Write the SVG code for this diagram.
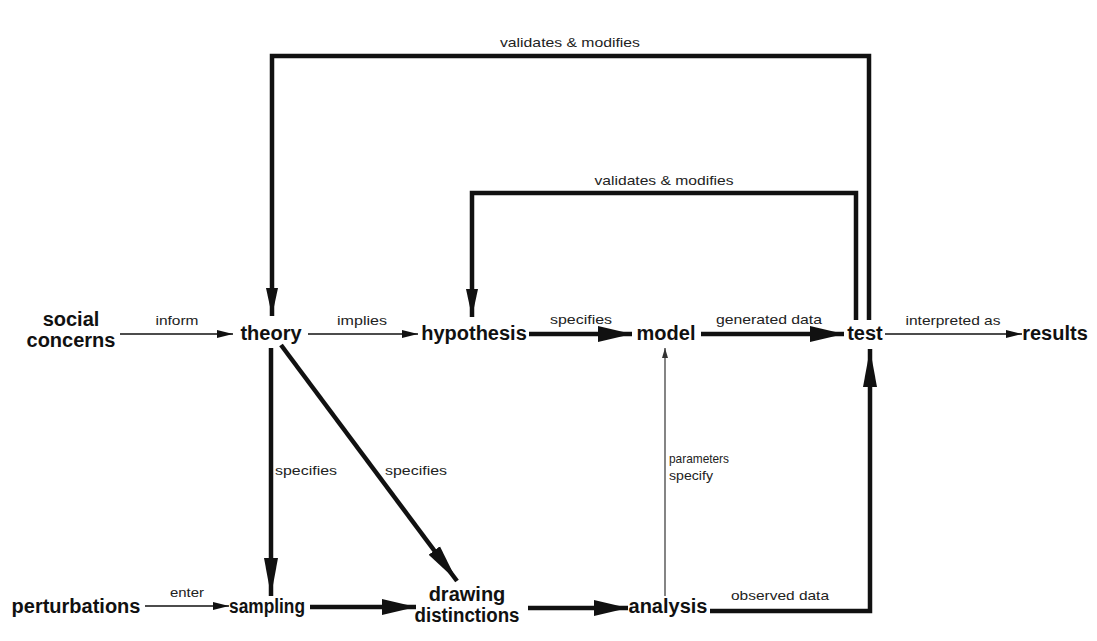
<svg xmlns="http://www.w3.org/2000/svg" width="1097" height="641" viewBox="0 0 1097 641">
<style>
.node{font-family:"Liberation Sans",Arial,sans-serif;font-size:20px;font-weight:bold;fill:#111;text-anchor:middle}
.lbl{font-family:"Liberation Sans",Arial,sans-serif;font-size:13px;fill:#222;text-anchor:middle}
.lbl-l{font-family:"Liberation Sans",Arial,sans-serif;font-size:13px;fill:#222}
.thin{fill:none;stroke:#111;stroke-width:1.6}
.hair{fill:none;stroke:#333;stroke-width:1.2}
.thick{fill:none;stroke:#111;stroke-width:4.5}
.loop{fill:none;stroke:#111;stroke-width:4.5;stroke-linejoin:miter}
</style>
<defs>
<marker id="hThin" markerUnits="userSpaceOnUse" markerWidth="16" markerHeight="10" refX="16" refY="5" orient="auto"><path d="M0,1 L16,5 L0,9 Z" fill="#111"/></marker>
<marker id="hHair" markerUnits="userSpaceOnUse" markerWidth="10" markerHeight="8" refX="10" refY="4" orient="auto"><path d="M0,1 L10,4 L0,7 Z" fill="#333"/></marker>
<marker id="hThick" markerUnits="userSpaceOnUse" markerWidth="34" markerHeight="18" refX="34" refY="9" orient="auto"><path d="M0,1 L34,9 L0,17 Z" fill="#111"/></marker>
<marker id="hLong" markerUnits="userSpaceOnUse" markerWidth="38" markerHeight="16" refX="38" refY="8" orient="auto"><path d="M0,1 L38,8 L0,15 Z" fill="#111"/></marker>
<marker id="hLoop" markerUnits="userSpaceOnUse" markerWidth="28" markerHeight="14" refX="28" refY="7" orient="auto"><path d="M0,1 L28,7 L0,13 Z" fill="#111"/></marker>
</defs>
<rect width="1097" height="641" fill="#fff"/>
<g id="connectors">
<path class="thin" d="M120,334 H233" marker-end="url(#hThin)"/>
<path class="thin" d="M308,334 H418" marker-end="url(#hThin)"/>
<path class="thick" d="M529,334 H632" marker-end="url(#hThick)"/>
<path class="thick" d="M701,334 H844" marker-end="url(#hThick)"/>
<path class="thin" d="M885,334 H1022" marker-end="url(#hThin)"/>
<path class="loop" d="M869,320 V56 H272 V316" marker-end="url(#hLoop)"/>
<path class="loop" d="M856,320 V193 H472 V317" marker-end="url(#hLoop)"/>
<path class="thick" d="M271,348 V596" marker-end="url(#hLong)"/>
<path class="thick" d="M281,345 L457,581" marker-end="url(#hLong)"/>
<path class="hair" d="M665,596 V348" marker-end="url(#hHair)"/>
<path class="thin" d="M145,606 H229" marker-end="url(#hThin)"/>
<path class="thick" d="M310,607 H416" marker-end="url(#hThick)"/>
<path class="thick" d="M528,608 H628" marker-end="url(#hThick)"/>
<path class="thick" d="M710,611 H870 V349" marker-end="url(#hLong)"/>
<text class="lbl" x="570" y="47" textLength="140" lengthAdjust="spacingAndGlyphs">validates &amp; modifies</text>
<text class="lbl" x="664" y="185" textLength="139" lengthAdjust="spacingAndGlyphs">validates &amp; modifies</text>
<text class="lbl" x="177" y="325" textLength="43" lengthAdjust="spacingAndGlyphs">inform</text>
<text class="lbl" x="362" y="325" textLength="50" lengthAdjust="spacingAndGlyphs">implies</text>
<text class="lbl" x="581" y="324" textLength="62" lengthAdjust="spacingAndGlyphs">specifies</text>
<text class="lbl" x="769" y="324" textLength="106" lengthAdjust="spacingAndGlyphs">generated data</text>
<text class="lbl" x="953" y="325" textLength="95" lengthAdjust="spacingAndGlyphs">interpreted as</text>
<text class="lbl" x="306" y="475" textLength="62" lengthAdjust="spacingAndGlyphs">specifies</text>
<text class="lbl" x="416" y="475" textLength="62" lengthAdjust="spacingAndGlyphs">specifies</text>
<text class="lbl-l" x="669" y="463" textLength="60" lengthAdjust="spacingAndGlyphs">parameters</text>
<text class="lbl-l" x="669" y="480" textLength="44" lengthAdjust="spacingAndGlyphs">specify</text>
<text class="lbl" x="187" y="597" textLength="34" lengthAdjust="spacingAndGlyphs">enter</text>
<text class="lbl" x="780" y="600" textLength="98" lengthAdjust="spacingAndGlyphs">observed data</text>
</g>
<g id="social-concerns"><text class="node" x="71" y="326">social</text><text class="node" x="71" y="347">concerns</text></g>
<g id="theory"><text class="node" x="271" y="340">theory</text></g>
<g id="hypothesis"><text class="node" x="474" y="340">hypothesis</text></g>
<g id="model"><text class="node" x="666" y="340">model</text></g>
<g id="test"><text class="node" x="865" y="340">test</text></g>
<g id="results"><text class="node" x="1055" y="340">results</text></g>
<g id="perturbations"><text class="node" x="76" y="613">perturbations</text></g>
<g id="sampling"><text class="node" x="267" y="613" textLength="76" lengthAdjust="spacingAndGlyphs">sampling</text></g>
<g id="drawing-distinctions"><text class="node" x="467" y="601">drawing</text><text class="node" x="467" y="622" textLength="105" lengthAdjust="spacingAndGlyphs">distinctions</text></g>
<g id="analysis"><text class="node" x="668" y="613">analysis</text></g>
</svg>
